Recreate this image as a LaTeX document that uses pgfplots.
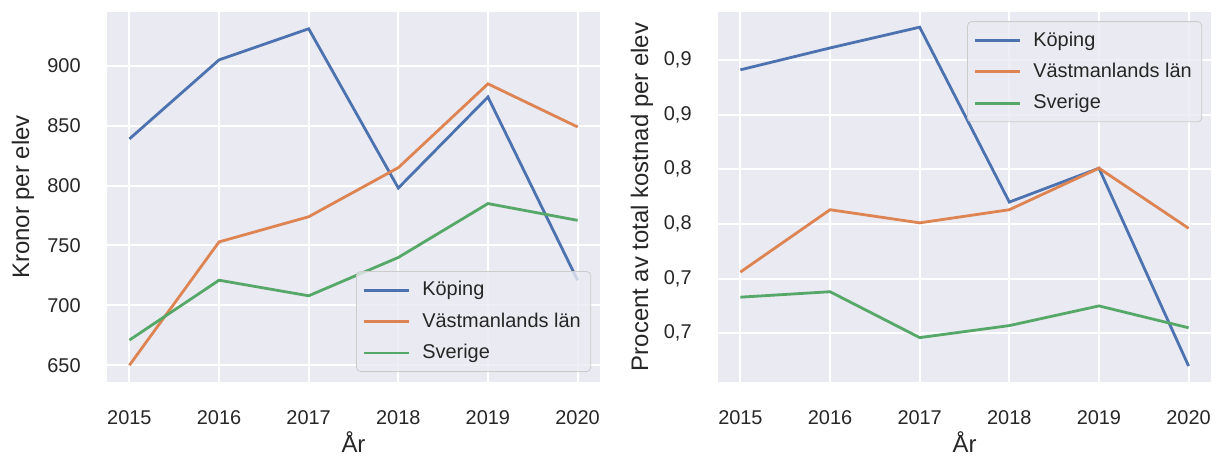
\documentclass[border=0pt]{standalone}
\usepackage{fontspec}
\setmainfont{Liberation Sans}
\usepackage{pgfplots}
\pgfplotsset{compat=1.18}

\definecolor{sbbg}{HTML}{EAEAF2}
\definecolor{sbblue}{HTML}{4C72B0}
\definecolor{sborange}{HTML}{DD8452}
\definecolor{sbgreen}{HTML}{55A868}
\definecolor{sbtext}{HTML}{262626}

\newcommand{\labfont}{\fontsize{12}{14}\selectfont}

% seaborn darkgrid look
\pgfplotsset{sb/.style={
    scale only axis, width=246.5bp, height=185bp,
    axis background/.style={fill=sbbg},
    axis line style={draw=none},
    grid=major, major grid style={white, line width=1bp},
    major tick length=0pt,
    xmin=2014.75, xmax=2020.25,
    xtick={2015,...,2020},
    /pgf/number format/assume math mode=true,
    /pgf/number format/1000 sep={},
    ticklabel style={font=\fontsize{10}{12}\selectfont, text=sbtext},
    xticklabel style={inner sep=0pt, yshift=-14bp},
    yticklabel style={inner sep=0pt, xshift=-13bp},
    xlabel={År},
    every axis x label/.style={at={([yshift=-30bp]rel axis cs:0.5,0)}, anchor=center, font=\labfont, text=sbtext},
    legend cell align=left,
    legend style={fill=sbbg, fill opacity=0.8, text opacity=1, draw=black!20,
        rounded corners=2bp, font=\fontsize{10}{12}\selectfont, text=sbtext,
        row sep=3bp, inner xsep=3bp, inner ysep=3bp,
        /tikz/every odd column/.append style={column sep=4bp}},
    legend image code/.code={\draw[##1, line width=1.4bp] (0bp,0bp) -- (22.5bp,0bp);},
    every axis plot/.append style={line width=1.4bp},
}}

\begin{document}
\begin{tikzpicture}
\useasboundingbox (0,0) rectangle (609bp,229.5bp);

\begin{axis}[sb,
    at={(53.5bp,38.5bp)}, anchor=south west,
    ymin=636, ymax=945,
    ytick={650,700,...,900},
    ylabel={Kronor per elev},
    every axis y label/.style={at={([xshift=-42bp]rel axis cs:0,0.5)}, rotate=90, anchor=center, font=\labfont, text=sbtext},
    legend style={at={(0.982,0.027)}, anchor=south east},
]
\addplot[sbblue] coordinates {(2015,839) (2016,905) (2017,931) (2018,798) (2019,874) (2020,721)};
\addplot[sborange] coordinates {(2015,650) (2016,753) (2017,774) (2018,815) (2019,885) (2020,849)};
\addplot[sbgreen] coordinates {(2015,671) (2016,721) (2017,708) (2018,740) (2019,785) (2020,771)};
\legend{Köping, Västmanlands län, Sverige}
\end{axis}

\begin{axis}[sb,
    at={(359bp,38.5bp)}, anchor=south west,
    ymin=0.6054, ymax=0.9439,
    ytick={0.65,0.70,0.75,0.80,0.85,0.90},
    yticklabels={{0,7},{0,7},{0,8},{0,8},{0,9},{0,9}},
    ylabel={Procent av total kostnad per elev},
    every axis y label/.style={at={([xshift=-38bp]rel axis cs:0,0.5)}, rotate=90, anchor=center, font=\labfont, text=sbtext},
    legend style={at={(0.982,0.975)}, anchor=north east},
]
\addplot[sbblue] coordinates {(2015,0.891) (2016,0.911) (2017,0.930) (2018,0.770) (2019,0.801) (2020,0.620)};
\addplot[sborange] coordinates {(2015,0.706) (2016,0.763) (2017,0.751) (2018,0.763) (2019,0.801) (2020,0.746)};
\addplot[sbgreen] coordinates {(2015,0.683) (2016,0.688) (2017,0.646) (2018,0.657) (2019,0.675) (2020,0.655)};
\legend{Köping, Västmanlands län, Sverige}
\end{axis}
\end{tikzpicture}
\end{document}
